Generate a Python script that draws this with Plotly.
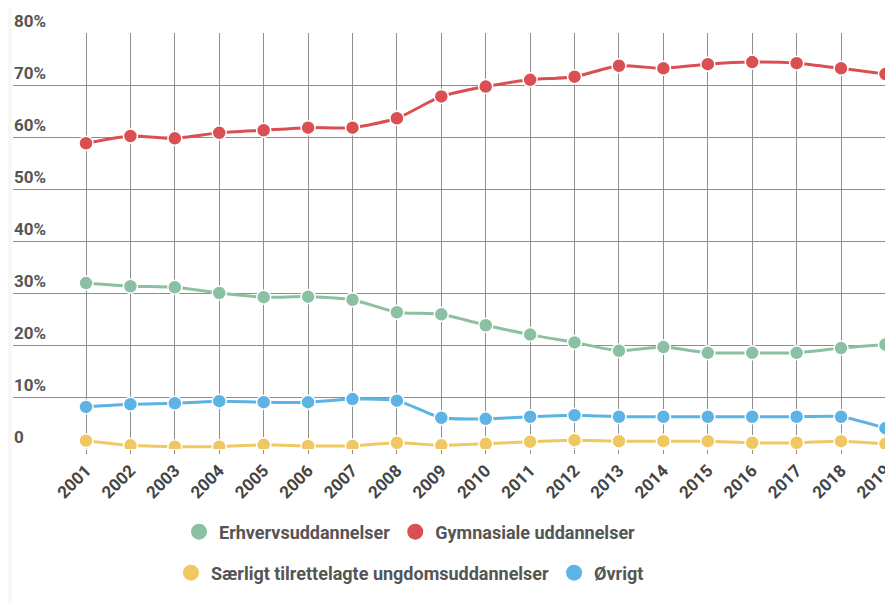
import plotly.graph_objects as go

years = list(range(2001, 2020))
erhverv = [31.9, 31.3, 31.1, 30.0, 29.2, 29.3, 28.7, 26.3, 25.9, 23.8, 22.0, 20.5, 18.9, 19.6, 18.5, 18.5, 18.5, 19.4, 20.1]
gymnasiale = [58.8, 60.2, 59.75, 60.8, 61.3, 61.8, 61.8, 63.6, 67.8, 69.7, 71.0, 71.6, 73.7, 73.2, 74.0, 74.4, 74.2, 73.2, 72.1]
saerligt = [1.6, 0.7, 0.45, 0.45, 0.8, 0.6, 0.6, 1.2, 0.7, 1.0, 1.4, 1.7, 1.5, 1.5, 1.5, 1.2, 1.2, 1.5, 1.0]
oevrigt = [8.1, 8.6, 8.8, 9.2, 9.0, 9.0, 9.6, 9.3, 6.0, 5.8, 6.2, 6.5, 6.2, 6.2, 6.2, 6.2, 6.2, 6.2, 4.0]

names = ["Erhvervsuddannelser", "Gymnasiale uddannelser",
         "Særligt tilrettelagte ungdomsuddannelser", "Øvrigt"]
colors = ["#8bc1a2", "#da4f52", "#f0c862", "#5cb3e4"]
series = [erhverv, gymnasiale, saerligt, oevrigt]
legend_ids = ["legend", "legend", "legend2", "legend2"]

ytick_vals = [0, 10, 20, 30, 40, 50, 60, 70, 80]
ytick_text = ["0", "10%", "20%", "30%", "40%", "50%", "60%", "70%", "80%"]

fig = go.Figure()
# draw order: yellow, blue, green, red
for i in [2, 3, 0, 1]:
    fig.add_trace(go.Scatter(
        x=years, y=series[i], mode="lines+markers", name=names[i],
        line=dict(color=colors[i], width=3, shape="spline", smoothing=0.6),
        marker=dict(size=14, color=colors[i], line=dict(color="white", width=1.5)),
        showlegend=False, hoverinfo="x+y+name"))

for i in range(4):
    fig.add_trace(go.Scatter(
        x=[None], y=[None], mode="markers", name=names[i],
        marker=dict(size=16, color=colors[i]),
        legend=legend_ids[i], showlegend=True))

# y tick labels sit above their gridlines at the left edge
annotations = [dict(x=0, y=v, xref="paper", yref="y", text=t, showarrow=False,
                    xanchor="left", yanchor="bottom", xshift=-1, yshift=0,
                    font=dict(size=17, color="#555555", family="Roboto", weight="bold"))
               for v, t in zip(ytick_vals, ytick_text)]

# page has an 8px body margin; figure sized to fill the rest of the window
FW, FH = 885, 596
L = 5
W = FW - L
legfont = dict(size=18, color="#555555", family="Roboto", weight="bold")
fig.update_layout(
    width=FW, height=FH,
    margin=dict(l=L, r=0, t=25, b=155, autoexpand=False),
    paper_bgcolor="white", plot_bgcolor="white",
    font=dict(family="Roboto", color="#555555"),
    xaxis=dict(
        range=[1999.356, 2019.17], tickmode="array", tickvals=years,
        ticktext=[str(y) for y in years], tickangle=-45, ticklabeloverflow="allow",
        showgrid=True, gridcolor="#8e8e8e", gridwidth=1.3,
        ticks="outside", ticklen=4, tickcolor="#8e8e8e",
        tickfont=dict(size=17, color="#444444", family="Roboto", weight="bold"),
        zeroline=False, showline=False, fixedrange=True, automargin=False),
    yaxis=dict(
        range=[0, 80], tickmode="array", tickvals=ytick_vals, showticklabels=False,
        showgrid=True, gridcolor="#8e8e8e", gridwidth=1.3,
        zeroline=False, showline=False, fixedrange=True, automargin=False),
    legend=dict(orientation="h", xref="container", yref="container",
                x=(410 - 8) / FW, xanchor="center", y=1 - (532 - 8) / FH, yanchor="middle",
                font=legfont, itemsizing="trace", bgcolor="rgba(0,0,0,0)"),
    legend2=dict(orientation="h", xref="container", yref="container",
                 x=(410 - 8) / FW, xanchor="center", y=1 - (573 - 8) / FH, yanchor="middle",
                 font=legfont, itemsizing="trace", bgcolor="rgba(0,0,0,0)"),
    annotations=annotations,
    shapes=[dict(type="rect", xref="paper", yref="paper", x0=-L / W, x1=-1 / W,
                 y0=-0.4, y1=1.1, fillcolor="#f8f8f8", line=dict(width=0), layer="below")],
    showlegend=True,
)

fig.write_html("out.html")
